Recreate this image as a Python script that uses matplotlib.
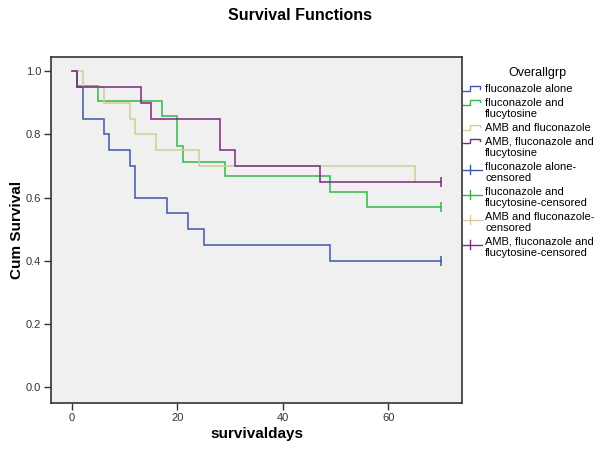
import matplotlib
matplotlib.use("Agg")
import matplotlib.pyplot as plt

plt.rcParams['font.family'] = ['Liberation Sans', 'DejaVu Sans']

# ---- data ----
group_labels = ["fluconazole alone", "fluconazole and\nflucytosine",
                "AMB and fluconazole", "AMB, fluconazole and\nflucytosine"]
censored_labels = ["fluconazole alone-\ncensored", "fluconazole and\nflucytosine-censored",
                   "AMB and fluconazole-\ncensored", "AMB, fluconazole and\nflucytosine-censored"]
colors = ["#3E58AC", "#2EB848", "#D3CE97", "#7C287D"]

times_alone = [0, 1, 2, 6, 7, 11, 12, 18, 22, 25, 49, 70]
surv_alone = [1.0, 0.95, 0.85, 0.80, 0.75, 0.70, 0.60, 0.55, 0.50, 0.45, 0.40, 0.40]

times_flu_fc = [0, 1, 5, 17, 20, 21, 29, 49, 56, 70]
surv_flu_fc = [1.0, 0.952, 0.905, 0.857, 0.762, 0.714, 0.667, 0.619, 0.571, 0.571]

times_amb_flu = [0, 2, 6, 11, 12, 16, 24, 65]
surv_amb_flu = [1.0, 0.95, 0.90, 0.85, 0.80, 0.75, 0.70, 0.65]

times_amb_flu_fc = [0, 1, 13, 15, 28, 31, 47, 70]
surv_amb_flu_fc = [1.0, 0.95, 0.90, 0.85, 0.75, 0.70, 0.65, 0.65]

censor_time = [70, 70, None, 70]
censor_surv = [0.40, 0.571, None, 0.65]

x_ticks = [0, 20, 40, 60]
y_ticks = [0.0, 0.2, 0.4, 0.6, 0.8, 1.0]

series_t = [times_alone, times_flu_fc, times_amb_flu, times_amb_flu_fc]
series_s = [surv_alone, surv_flu_fc, surv_amb_flu, surv_amb_flu_fc]

# ---- figure ----
W, H = 600, 455
fig = plt.figure(figsize=(W / 100, H / 100), dpi=100)
L, R, T, B = 51, 462, 57, 403
ax = fig.add_axes([L / W, 1 - B / H, (R - L) / W, (B - T) / H])
ax.set_facecolor("#F0F0F0")

for t, s, c in zip(series_t, series_s, colors):
    ax.step(t, s, where='post', color=c, lw=1.1, solid_joinstyle='miter')
for ct, cs, c in zip(censor_time, censor_surv, colors):
    if ct is not None:
        ax.plot([ct], [cs], marker='|', color=c, markersize=7, mew=1.1, ls='none')

ax.set_xlim(-4, 74)
ax.set_ylim(-0.05, 1.045)
ax.set_xticks(x_ticks)
ax.set_xticklabels([str(v) for v in x_ticks])
ax.set_yticks(y_ticks)
ax.set_yticklabels([f"{v:.1f}" for v in y_ticks])
ax.tick_params(direction='out', length=5, width=1, color='#333333',
               labelcolor='#333333', labelsize=8, pad=2)
for sp in ax.spines.values():
    sp.set_color('#333333')
    sp.set_linewidth(1.2)

fig.text(0.5, 1 - 15 / H, "Survival Functions", ha='center', va='center',
         fontsize=11.5, fontweight='bold')
fig.text((L + R) / 2 / W, 1 - 434 / H, "survivaldays", ha='center', va='center',
         fontsize=11, fontweight='bold')
fig.text(17.5 / W, 1 - 230 / H, "Cum Survival", ha='center', va='center',
         rotation=90, fontsize=11, fontweight='bold')

# ---- legend (outside panel, pixel coordinates) ----
lax = fig.add_axes([0, 0, 1, 1])
lax.set_xlim(0, W)
lax.set_ylim(H, 0)
lax.axis('off')
lax.text(537, 73, "Overallgrp", ha='center', va='center', fontsize=9)

y = 89
line_h = 11.2
gap = 2.6
for lab, c in zip(group_labels, colors):
    lax.plot([463, 469.5, 469.5, 479.5, 479.5],
             [y + 1.8, y + 1.8, y - 2.8, y - 2.8, y - 0.5],
             color=c, lw=1.0, solid_joinstyle='miter')
    for k, ln in enumerate(lab.split("\n")):
        lax.text(485, y + k * line_h, ln, ha='left', va='center', fontsize=8)
    y += line_h * len(lab.split("\n")) + gap
for lab, c in zip(censored_labels, colors):
    lax.plot([463, 482], [y + 3, y + 3], color=c, lw=1.0)
    lax.plot([470, 470], [y - 1.5, y + 7.5], color=c, lw=1.0)
    for k, ln in enumerate(lab.split("\n")):
        lax.text(485, y + k * line_h, ln, ha='left', va='center', fontsize=8)
    y += line_h * len(lab.split("\n")) + gap

fig.savefig("out.png", dpi=100)
